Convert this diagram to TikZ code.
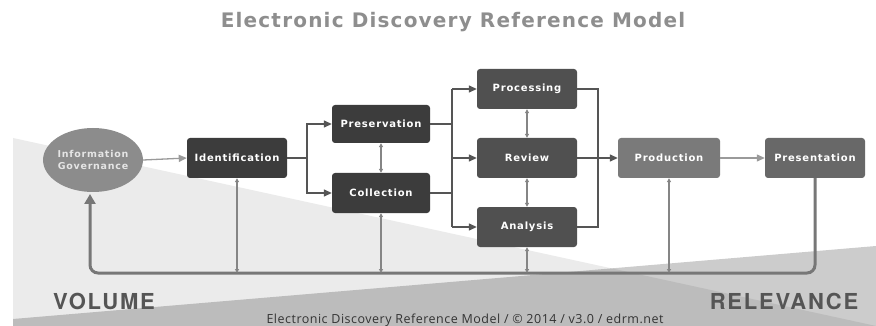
\documentclass[tikz,border=0pt]{standalone}
\usepackage{fontspec}
\setmainfont{DejaVu Sans}
\newfontfamily\titlefont{DejaVu Sans}[LetterSpace=6]
\newfontfamily\boxfont{DejaVu Sans}[LetterSpace=8]
\newfontfamily\herosw{TeX Gyre Heros}[LetterSpace=8]
\newfontfamily\opens{Open Sans}[LetterSpace=4]
\usetikzlibrary{arrows.meta,shapes.geometric}
\definecolor{boxA}{HTML}{3C3C3C}
\definecolor{boxB}{HTML}{505050}
\definecolor{boxC}{HTML}{7A7A7A}
\definecolor{boxD}{HTML}{686868}
\definecolor{igfill}{HTML}{8C8C8C}
\definecolor{flowc}{HTML}{555555}
\definecolor{lightc}{HTML}{9A9A9A}
\definecolor{dblc}{HTML}{858585}
\definecolor{loopc}{HTML}{777777}
\definecolor{titlec}{HTML}{8E8E8E}
\definecolor{wordc}{HTML}{555555}
\definecolor{footc}{HTML}{333333}
\tikzset{
  stage/.style={rounded corners=3pt, minimum width=100pt, minimum height=40pt,
    text=white, font=\boxfont\bfseries\fontsize{10}{12}\selectfont, inner sep=0pt},
  flow/.style={draw=flowc, line width=1.4pt},
  flowarrow/.style={flow, -{Triangle[length=8pt,width=7pt]}},
  dbl/.style={draw=dblc, line width=1.3pt, {Triangle[length=4pt,width=4pt]}-{Triangle[length=4pt,width=4pt]}},
  loopline/.style={draw=loopc, line width=3pt, rounded corners=8pt, -{Triangle[length=10pt,width=11pt]}},
  bigword/.style={text=wordc, font=\herosw\bfseries\fontsize{22}{26}\selectfont, inner sep=0pt},
}
\begin{document}
\begin{tikzpicture}[x=1pt,y=-1pt]
\useasboundingbox (0,0) rectangle (876,326);
\fill[white] (0,0) rectangle (876,326);
% background wedges
\fill[black!8] (13,138) -- (876,326) -- (13,326) -- cycle;
\fill[black, opacity=0.2] (13,319) -- (876,246) -- (876,326) -- (13,326) -- cycle;
% title
\node[text=titlec, font=\titlefont\bfseries\fontsize{20}{24}\selectfont] (title) at (453,22) {Electronic Discovery Reference Model};
% nodes
\node[ellipse, fill=igfill, minimum width=93pt, minimum height=64pt, inner sep=0pt,
  text=white!90!black, align=center, font=\boxfont\bfseries\fontsize{9.5}{11.5}\selectfont] (ig) at (93,160) {Information\\Governance};
\node[stage, fill=boxA] (ident) at (237,158) {Identification};
\node[stage, fill=boxA, minimum width=98pt, minimum height=38pt] (pres) at (381,124) {Preservation};
\node[stage, fill=boxA, minimum width=98pt] (coll) at (381,193) {Collection};
\node[stage, fill=boxB] (proc) at (527,89) {Processing};
\node[stage, fill=boxB] (rev) at (527,158) {Review};
\node[stage, fill=boxB] (anal) at (527,227) {Analysis};
\node[stage, fill=boxC, minimum width=102pt] (prod) at (669,158) {Production};
\node[stage, fill=boxD] (presn) at (815,158) {Presentation};
% junction coordinates
\coordinate (j1) at (307,158);
\coordinate (j2t) at (452,89);
\coordinate (j2m) at (452,158);
\coordinate (j2b) at (452,227);
\coordinate (j3t) at (598,89);
\coordinate (j3b) at (598,227);
\coordinate (loopL) at (90,273);
\coordinate (loopR) at (815,273);
\coordinate (igend) at (90,194);
% connectors
\draw[draw=lightc, line width=1.3pt, -{Triangle[length=8pt,width=7pt]}] (ig.east) -- (ident.west);
\draw[flow] (ident.east) -- (j1);
\draw[flowarrow] (j1) |- (pres.west);
\draw[flowarrow] (j1) |- (coll.west);
\draw[dbl] (pres.south) -- (coll.north);
\draw[flow] (pres.east) -- (pres.east -| j2t);
\draw[flow] (coll.east) -- (coll.east -| j2t);
\draw[flow] (j2t) -- (j2b);
\draw[flowarrow] (j2t) -- (proc.west);
\draw[flowarrow] (j2m) -- (rev.west);
\draw[flowarrow] (j2b) -- (anal.west);
\draw[dbl] (proc.south) -- (rev.north);
\draw[dbl] (rev.south) -- (anal.north);
\draw[flow] (proc.east) -- (j3t) -- (j3b) -- (anal.east);
\draw[flowarrow] (rev.east) -- (prod.west);
\draw[draw=lightc, line width=1.3pt, -{Triangle[length=8pt,width=7pt]}] (prod.east) -- (presn.west);
% feedback loop
\draw[loopline] (presn.south) -- (loopR) -- (loopL) -- (igend);
\draw[dbl] (ident.south) -- (ident.south |- loopL);
\draw[dbl] (coll.south) -- (coll.south |- loopL);
\draw[dbl] (anal.south) -- (anal.south |- loopL);
\draw[dbl] (prod.south) -- (prod.south |- loopL);
% words
\node[bigword] (vol) at (104,301) {VOLUME};
\node[bigword] (rel) at (784,301) {RELEVANCE};
\node[text=footc, font=\opens\fontsize{12.5}{14}\selectfont, inner sep=0pt] (foot) at (465,320) {Electronic Discovery Reference Model / © 2014 / v3.0 / edrm.net};
\end{tikzpicture}
\end{document}
